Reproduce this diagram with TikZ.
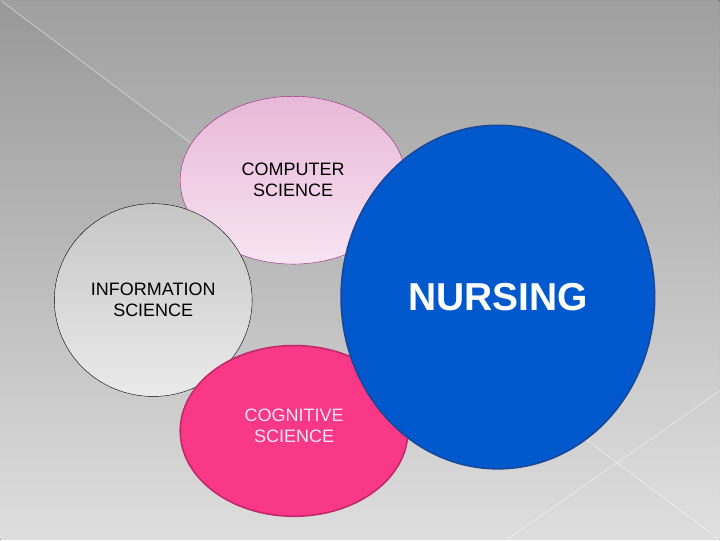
\documentclass[tikz,border=0pt]{standalone}
\usepackage{fontspec}
\setmainfont{Liberation Sans}
\usepackage{tikz}
\usetikzlibrary{shapes.geometric, positioning, backgrounds}
\definecolor{bgtop}{RGB}{152,152,152}
\definecolor{bgbottom}{RGB}{222,222,222}
\definecolor{comptop}{RGB}{232,184,216}
\definecolor{compbottom}{RGB}{248,228,242}
\definecolor{compedge}{RGB}{150,40,120}
\definecolor{infotop}{RGB}{198,198,198}
\definecolor{infobottom}{RGB}{234,234,234}
\definecolor{cogfill}{RGB}{250,56,136}
\definecolor{cogedge}{RGB}{190,40,100}
\definecolor{cogtext}{RGB}{250,228,242}
\definecolor{nursefill}{RGB}{0,89,204}
\definecolor{nurseedge}{RGB}{25,70,150}
\tikzset{
    bubble/.style={ellipse, inner sep=0pt, align=center, font=\fontsize{18}{21}\selectfont},
    compbubble/.style={bubble, draw=compedge, thin, top color=comptop, bottom color=compbottom},
    infobubble/.style={bubble, draw=black, thin, top color=infotop, bottom color=infobottom},
    cogbubble/.style={bubble, draw=cogedge, line width=1.5pt, fill=cogfill, text=cogtext},
    nursebubble/.style={bubble, draw=nurseedge, line width=1.5pt, fill=nursefill, text=white, font=\fontsize{39}{44}\selectfont\bfseries},
    glint/.style={white, opacity=0.45, line width=0.8pt}
}
\begin{document}
\begin{tikzpicture}[x=1pt, y=1pt]
        % --- Background ---
        \fill[top color=bgtop, bottom color=bgbottom] (0,0) rectangle (720,540);
        \fill[white, opacity=0.08] (0,540) -- (720,0) -- (720,540) -- cycle;
        \coordinate (TL) at (0,540);
        \coordinate (BR) at (720,0);
        \coordinate (LowL) at (507,0);
        \coordinate (LowR) at (720,149);
        \draw[glint] (TL) -- (BR);
        \draw[glint] (LowL) -- (LowR);

        % --- Bubbles, back to front ---
        \node (Comp) [compbubble, minimum width=226pt, minimum height=168pt] at (293,360) {COMPUTER \\ SCIENCE};
        \node (Info) [infobubble, minimum width=198pt, minimum height=193pt] at (153,240) {INFORMATION \\ SCIENCE};
        \node (Cog) [cogbubble, minimum width=228pt, minimum height=171pt, text depth=10pt] at (294,109) {COGNITIVE \\ SCIENCE};
        \node (Nursing) [nursebubble, minimum width=314pt, minimum height=344pt] at (498,243) {NURSING};
    \end{tikzpicture}
\end{document}
